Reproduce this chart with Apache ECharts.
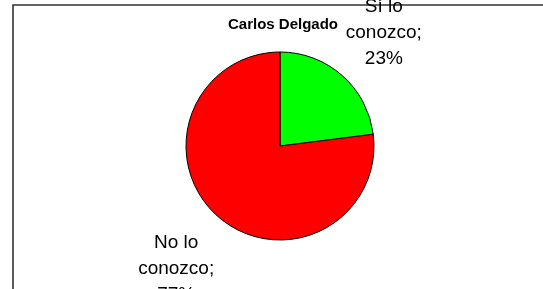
<!DOCTYPE html>
<html>
<head>
<meta charset="utf-8">
<script src="https://cdn.jsdelivr.net/npm/echarts@6/dist/echarts.min.js"></script>
<style>
  html, body { margin: 0; padding: 0; background: #fff; }
  #pie-chart { width: 543px; height: 289px; }
</style>
</head>
<body>
<div id="pie-chart"></div>
<script>
// 数据
var chartTitle = 'Carlos Delgado';
var categories = ['Sí lo conozco', 'No lo conozco'];
var values = [23, 77];

var total = values.reduce(function (a, b) { return a + b; }, 0);
var pieCenter = [280, 146];
var labelDist = 157;

// 每个扇区中间角度（从12点方向顺时针）
function midAngle(idx) {
  var before = 0;
  for (var i = 0; i < idx; i++) before += values[i];
  return (before + values[idx] / 2) / total * Math.PI * 2;
}

var pieData = categories.map(function (name, i) {
  return { name: name, value: values[i] };
});

var chart = echarts.init(document.getElementById('pie-chart'));
var option = {
  animation: false,
  backgroundColor: '#fff',
  color: ['#00FF00', '#FF0000'],
  title: {
    text: chartTitle,
    left: 278,
    top: 12,
    textAlign: 'center',
    textStyle: {
      fontFamily: 'Liberation Sans, Arial, sans-serif',
      fontSize: 15,
      fontWeight: 'bold',
      color: '#000'
    }
  },
  graphic: [{
    type: 'rect',
    shape: { x: 13, y: 5, width: 700, height: 500 },
    style: { fill: 'none', stroke: '#333', lineWidth: 1.6 },
    z: -1
  }],
  series: [{
    type: 'pie',
    center: pieCenter,
    radius: 94,
    startAngle: 90,
    clockwise: true,
    avoidLabelOverlap: false,
    itemStyle: { borderColor: '#000', borderWidth: 1 },
    label: {
      show: true,
      position: 'outside',
      fontFamily: 'Liberation Sans, Arial, sans-serif',
      fontSize: 19,
      lineHeight: 26,
      color: '#000',
      formatter: function (p) {
        return p.name.replace(' conozco', '\nconozco') + ';\n' + p.percent + '%';
      }
    },
    labelLine: { show: false },
    labelLayout: function (params) {
      var a = midAngle(params.dataIndex);
      return {
        x: pieCenter[0] + Math.sin(a) * labelDist,
        y: pieCenter[1] - Math.cos(a) * labelDist + 5,
        align: 'center',
        verticalAlign: 'middle'
      };
    },
    emphasis: { disabled: true },
    data: pieData
  }]
};
chart.setOption(option);
</script>
</body>
</html>
